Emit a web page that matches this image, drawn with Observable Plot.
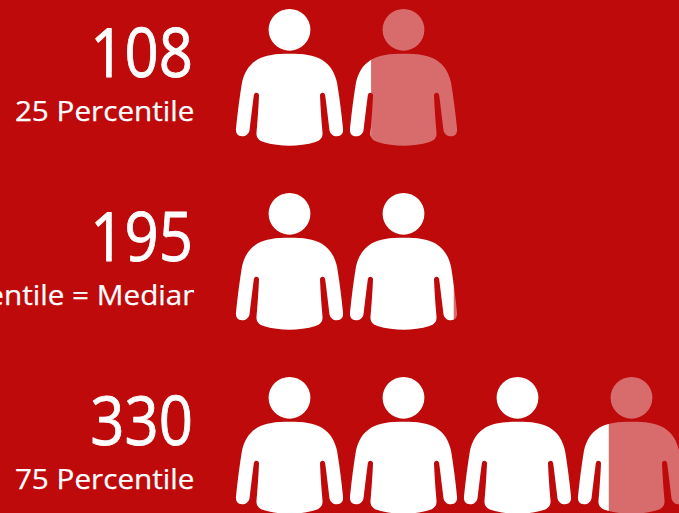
<!DOCTYPE html>
<html>
<head>
<meta charset="utf-8">
<style>
html,body{margin:0;padding:0;background:#be0a0a;overflow:hidden}
svg{display:block}
</style>
<script src="https://cdn.jsdelivr.net/npm/d3@7"></script>
<script src="https://cdn.jsdelivr.net/npm/@observablehq/plot@0.6"></script>
</head>
<body>
<script>
const values = [108, 195, 330];
const labels = ["25 Percentile", "50 Percentile = Median", "75 Percentile"];
const filledPeople = [1.22, 1.945, 3.305];

const BG = "#be0a0a";
const FONT = "'Open Sans', 'Noto Sans', sans-serif";

const rows = values.map((v, i) => ({row: i, value: v, label: labels[i], filled: filledPeople[i]}));
const people = rows.flatMap(r => d3.range(Math.ceil(r.filled)).map(k => ({row: r.row, slot: k + 0.5})));
const fades = rows.filter(r => r.filled % 1 > 0).map(r => ({row: r.row, from: r.filled, to: Math.ceil(r.filled)}));

// Left half of the body outline as cubic Bezier points, mirrored for the right half.
const half = [
  [0,-23.7], [-14,-23.7],[-24,-22.5],[-32,-18],
  [-41,-12.5],[-45,-5],[-47.5,5],
  [-50,20],[-52,36],[-53.5,51],
  [-54,56],[-51.8,58.8],[-47.5,58.8],
  [-43.5,58.8],[-41,56.5],[-40,53],
  [-38.5,40],[-37,28],[-35.7,18],
  [-35.3,16],[-34.4,15.3],[-33.2,15.3],
  [-31.6,15.3],[-30.6,16.3],[-30.5,18],
  [-31,30],[-32,44],[-33,55],
  [-33.4,60],[-31,63],[-26,64.5],
  [-18,67],[-8,68.3],[0,68.3]
];
const person = {
  draw(ctx, size) {
    const k = Math.sqrt(size / Math.PI);
    const pts = half.concat(half.slice(0, -1).reverse().map(([x, y]) => [-x, y]));
    ctx.moveTo(pts[0][0] * k, pts[0][1] * k);
    for (let i = 1; i < pts.length; i += 3) {
      ctx.bezierCurveTo(pts[i][0]*k, pts[i][1]*k, pts[i+1][0]*k, pts[i+1][1]*k, pts[i+2][0]*k, pts[i+2][1]*k);
    }
    ctx.closePath();
    const hy = -47.7 * k, hr = 20.9 * k;
    ctx.moveTo(hr, hy);
    ctx.arc(0, hy, hr, 0, 2 * Math.PI);
    ctx.closePath();
  }
};

const labelOpts = {
  x: () => 0, y: "row", text: "label",
  textAnchor: "end", dy: 43, lineAnchor: "bottom",
  fill: "white", stroke: "white", strokeWidth: 0.25, fontSize: 28, fontFamily: FONT
};

const chart = Plot.plot({
  width: 679,
  height: 513,
  margin: 0,
  style: {background: BG, overflow: "hidden"},
  x: {domain: [0, 4], range: [232, 688], axis: null},
  y: {domain: [0, 2], range: [77, 445], axis: null},
  marks: [
    Plot.dot(people, {x: "slot", y: "row", r: 1, symbol: person, fill: "white", stroke: "none"}),
    Plot.rect(fades, {
      x1: "from", x2: "to",
      y1: d => d.row - 0.38, y2: d => d.row + 0.38,
      fill: BG, fillOpacity: 0.6
    }),
    Plot.text(rows, {
      x: () => 0, y: "row", text: d => String(d.value),
      textAnchor: "end", dx: -39.5, dy: -0.5, lineAnchor: "bottom",
      fill: "white", stroke: "white", strokeWidth: 0.9, fontSize: 68, fontFamily: FONT
    }),
    Plot.text(rows, {...labelOpts, dx: -38, filter: d => d.row !== 1}),
    Plot.text(rows, {...labelOpts, dx: -32, filter: d => d.row === 1}),
    // The median label runs into its box edge in the reference and is cut there.
    Plot.rect([{row: 1}], {
      x1: () => -0.333, x2: () => 0,
      y1: d => d.row + 0.07, y2: d => d.row + 0.3,
      fill: BG
    })
  ]
});
document.body.appendChild(chart);

// Condense or widen the substitute font to the reference's text widths.
chart.querySelectorAll("text").forEach(t => {
  const isValue = values.map(String).includes(t.textContent);
  t.setAttribute("lengthAdjust", "spacingAndGlyphs");
  t.setAttribute("textLength", t.getComputedTextLength() * (isValue ? 0.88 : 1.06));
});
</script>
</body>
</html>
